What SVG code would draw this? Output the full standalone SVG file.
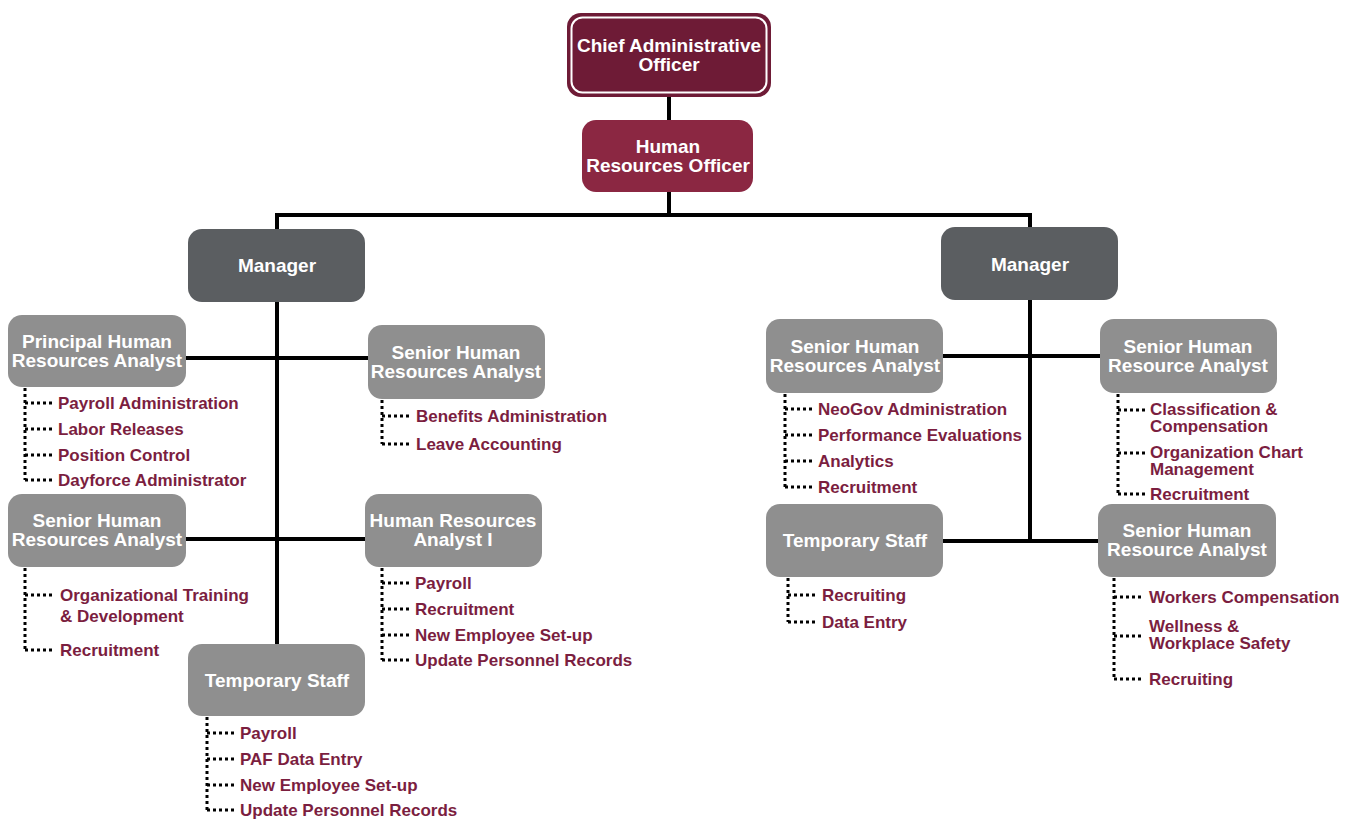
<svg xmlns="http://www.w3.org/2000/svg" width="1353" height="819" viewBox="0 0 1353 819">
<style>
.bt{font-family:"Liberation Sans",Arial,sans-serif;font-weight:bold;font-size:19px;fill:#fff;text-anchor:middle}
.it{font-family:"Liberation Sans",Arial,sans-serif;font-weight:bold;font-size:17px;fill:#7b1e3f}
.g{fill:#8f8f8f}
.m{fill:#5b5e61}
.con{stroke:#000;stroke-width:4;fill:none}
.dot{stroke:#000;stroke-width:3;fill:none;stroke-dasharray:3 3}
</style>
<rect width="1353" height="819" fill="#fff"/>
<g id="connectors">
<path class="con" d="M669 97V120M669 192V215M277 229V215H1030V227"/>
<path class="con" d="M277 302V644M186 358H368M186 539H365"/>
<path class="con" d="M1030 300V541M943 356H1100M943 541H1098"/>
</g>
<g id="cao">
<rect x="567" y="13" width="204" height="84" rx="14" fill="#6e1b36"/>
<rect x="571.5" y="17.5" width="195" height="75" rx="11" fill="none" stroke="#fff" stroke-width="2"/>
<text class="bt" x="669" y="52">Chief Administrative</text>
<text class="bt" x="669" y="71">Officer</text>
</g>
<g id="hro">
<rect x="582" y="120" width="171" height="72" rx="14" fill="#8b2742"/>
<text class="bt" x="668" y="153">Human</text>
<text class="bt" x="668" y="172">Resources Officer</text>
</g>
<g id="manager-left">
<rect class="m" x="188" y="229" width="177" height="73" rx="14"/>
<text class="bt" x="277" y="272">Manager</text>
</g>
<g id="manager-right">
<rect class="m" x="941" y="227" width="177" height="73" rx="14"/>
<text class="bt" x="1030" y="271">Manager</text>
</g>
<g id="principal-hra">
<rect class="g" x="8" y="315" width="178" height="72" rx="14"/>
<text class="bt" x="97" y="348">Principal Human</text>
<text class="bt" x="97" y="367">Resources Analyst</text>
<path class="dot" d="M25 388V480M25 403H53M25 429H53M25 455H53M25 480H53"/>
<text class="it" x="58" y="409">Payroll Administration</text>
<text class="it" x="58" y="435">Labor Releases</text>
<text class="it" x="58" y="461">Position Control</text>
<text class="it" x="58" y="486">Dayforce Administrator</text>
</g>
<g id="senior-hra-left-top">
<rect class="g" x="368" y="325" width="177" height="74" rx="14"/>
<text class="bt" x="456" y="359">Senior Human</text>
<text class="bt" x="456" y="378">Resources Analyst</text>
<path class="dot" d="M382 400V444M382 416H411M382 444H411"/>
<text class="it" x="416" y="422">Benefits Administration</text>
<text class="it" x="416" y="450">Leave Accounting</text>
</g>
<g id="senior-hra-left-bottom">
<rect class="g" x="8" y="494" width="178" height="73" rx="14"/>
<text class="bt" x="97" y="527">Senior Human</text>
<text class="bt" x="97" y="546">Resources Analyst</text>
<path class="dot" d="M25 568V650M25 595H55M25 650H55"/>
<text class="it" x="60" y="601">Organizational Training</text>
<text class="it" x="60" y="622">&amp; Development</text>
<text class="it" x="60" y="656">Recruitment</text>
</g>
<g id="hra-1">
<rect class="g" x="365" y="494" width="177" height="73" rx="14"/>
<text class="bt" x="453" y="527">Human Resources</text>
<text class="bt" x="453" y="546">Analyst I</text>
<path class="dot" d="M382 568V660M382 583H410M382 609H410M382 635H410M382 660H410"/>
<text class="it" x="415" y="589">Payroll</text>
<text class="it" x="415" y="615">Recruitment</text>
<text class="it" x="415" y="641">New Employee Set-up</text>
<text class="it" x="415" y="666">Update Personnel Records</text>
</g>
<g id="temp-left">
<rect class="g" x="188" y="644" width="177" height="72" rx="14"/>
<text class="bt" x="277" y="687">Temporary Staff</text>
<path class="dot" d="M207 717V810M207 733H235M207 759H235M207 785H235M207 810H235"/>
<text class="it" x="240" y="739">Payroll</text>
<text class="it" x="240" y="765">PAF Data Entry</text>
<text class="it" x="240" y="791">New Employee Set-up</text>
<text class="it" x="240" y="816">Update Personnel Records</text>
</g>
<g id="senior-hra-right">
<rect class="g" x="766" y="319" width="177" height="74" rx="14"/>
<text class="bt" x="855" y="353">Senior Human</text>
<text class="bt" x="855" y="372">Resources Analyst</text>
<path class="dot" d="M785 394V487M785 409H813M785 435H813M785 461H813M785 487H813"/>
<text class="it" x="818" y="415">NeoGov Administration</text>
<text class="it" x="818" y="441">Performance Evaluations</text>
<text class="it" x="818" y="467">Analytics</text>
<text class="it" x="818" y="493">Recruitment</text>
</g>
<g id="senior-hr-analyst-right-top">
<rect class="g" x="1100" y="319" width="177" height="74" rx="14"/>
<text class="bt" x="1188" y="353">Senior Human</text>
<text class="bt" x="1188" y="372">Resource Analyst</text>
<path class="dot" d="M1118 394V494M1118 410H1145M1118 453H1145M1118 494H1145"/>
<text class="it" x="1150" y="415">Classification &amp;</text>
<text class="it" x="1150" y="432">Compensation</text>
<text class="it" x="1150" y="458">Organization Chart</text>
<text class="it" x="1150" y="475">Management</text>
<text class="it" x="1150" y="500">Recruitment</text>
</g>
<g id="temp-right">
<rect class="g" x="766" y="504" width="177" height="73" rx="14"/>
<text class="bt" x="855" y="547">Temporary Staff</text>
<path class="dot" d="M788 578V622M788 595H817M788 622H817"/>
<text class="it" x="822" y="601">Recruiting</text>
<text class="it" x="822" y="628">Data Entry</text>
</g>
<g id="senior-hr-analyst-right-bottom">
<rect class="g" x="1098" y="504" width="178" height="73" rx="14"/>
<text class="bt" x="1187" y="537">Senior Human</text>
<text class="bt" x="1187" y="556">Resource Analyst</text>
<path class="dot" d="M1114 578V679M1114 597H1144M1114 636H1144M1114 679H1144"/>
<text class="it" x="1149" y="603">Workers Compensation</text>
<text class="it" x="1149" y="632">Wellness &amp;</text>
<text class="it" x="1149" y="649">Workplace Safety</text>
<text class="it" x="1149" y="685">Recruiting</text>
</g>
</svg>
